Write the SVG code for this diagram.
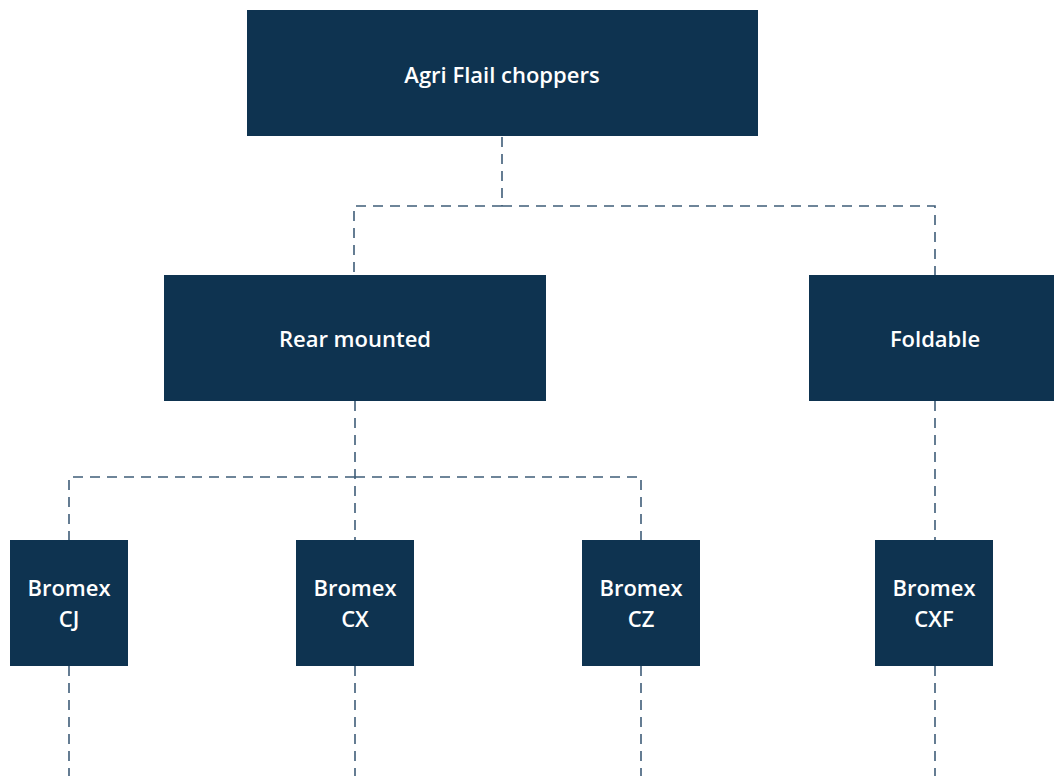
<svg xmlns="http://www.w3.org/2000/svg" width="1054" height="776" viewBox="0 0 1054 776">
<style>
.node{fill:#0e3350;}
.lbl{fill:#ffffff;font-family:"Open Sans","Noto Sans",sans-serif;font-weight:600;font-size:22px;text-anchor:middle;}
.con{fill:none;stroke:#3f5d78;stroke-width:1.6;stroke-dasharray:10 7;}
</style>
<rect width="1054" height="776" fill="#ffffff"/>
<g id="connectors">
<path class="con" d="M502 137 V206"/>
<path class="con" d="M502 206 H354 V275"/>
<path class="con" d="M502 206 H935 V275"/>
<path class="con" d="M355 401 V540"/>
<path class="con" d="M355 477 H69 V540"/>
<path class="con" d="M355 477 H641 V540"/>
<path class="con" d="M935 401 V540"/>
<path class="con" d="M69 666 V776"/>
<path class="con" d="M355 666 V776"/>
<path class="con" d="M641 666 V776"/>
<path class="con" d="M935 666 V776"/>
</g>
<g id="n-root"><rect class="node" x="247" y="10" width="511" height="126"/><text class="lbl" x="502" y="83">Agri Flail choppers</text></g>
<g id="n-rear"><rect class="node" x="164" y="275" width="382" height="126"/><text class="lbl" x="355" y="347">Rear mounted</text></g>
<g id="n-fold"><rect class="node" x="809" y="275" width="252" height="126"/><text class="lbl" x="935" y="347">Foldable</text></g>
<g id="n-cj"><rect class="node" x="10" y="540" width="118" height="126"/><text class="lbl" x="69" y="596">Bromex</text><text class="lbl" x="69" y="627">CJ</text></g>
<g id="n-cx"><rect class="node" x="296" y="540" width="118" height="126"/><text class="lbl" x="355" y="596">Bromex</text><text class="lbl" x="355" y="627">CX</text></g>
<g id="n-cz"><rect class="node" x="582" y="540" width="118" height="126"/><text class="lbl" x="641" y="596">Bromex</text><text class="lbl" x="641" y="627">CZ</text></g>
<g id="n-cxf"><rect class="node" x="875" y="540" width="118" height="126"/><text class="lbl" x="934" y="596">Bromex</text><text class="lbl" x="934" y="627">CXF</text></g>
</svg>
